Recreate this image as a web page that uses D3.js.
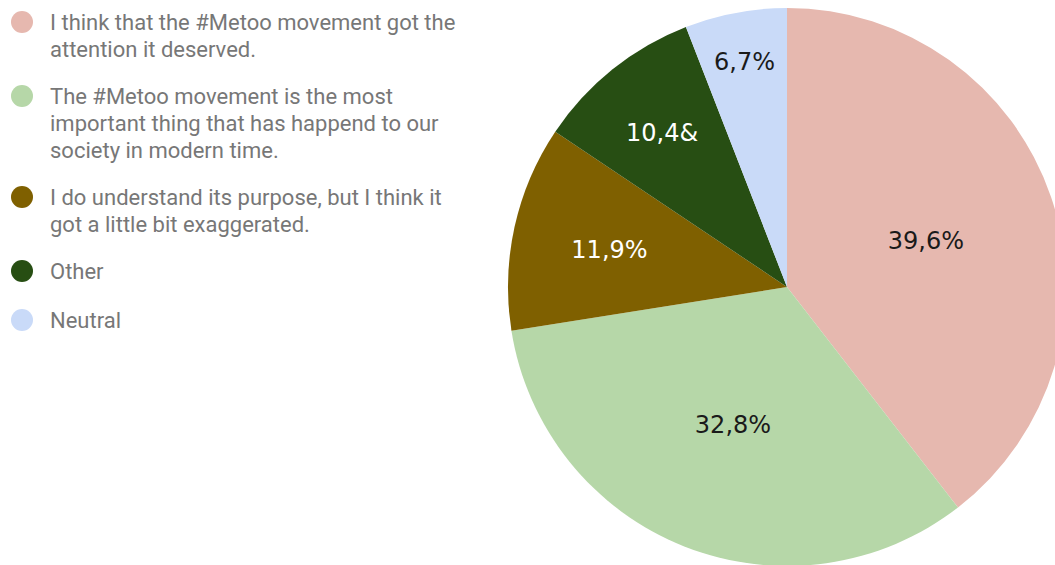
<!DOCTYPE html>
<html>
<head>
<meta charset="utf-8">
<script src="https://cdn.jsdelivr.net/npm/d3@7"></script>
<style>
  html, body { margin: 0; padding: 0; background: #fff; }
  svg { display: block; }
</style>
</head>
<body>
<svg id="chart" width="1055" height="565"></svg>
<script>
// ---- data ----
const categories = [
  ["I think that the #Metoo movement got the", "attention it deserved."],
  ["The #Metoo movement is the most", "important thing that has happend to our", "society in modern time."],
  ["I do understand its purpose, but I think it", "got a little bit exaggerated."],
  ["Other"],
  ["Neutral"]
];
const shares = [39.5, 33.0, 11.9, 9.7, 5.9];           // slice sizes as drawn
const sliceLabels = ["39,6%", "32,8%", "11,9%", "10,4&", "6,7%"]; // label texts as printed
const colors = ["#e6b8af", "#b6d7a8", "#7f6000", "#274e13", "#c9daf8"];
const labelColors = ["#1a1a1a", "#1a1a1a", "#ffffff", "#ffffff", "#1a1a1a"];

// ---- layout ----
const cx = 787, cy = 287, R = 279;
const svg = d3.select("#chart");

const pie = d3.pie().sort(null).value(d => d);
const arcs = pie(shares);
const arc = d3.arc().innerRadius(0).outerRadius(R);

const g = svg.append("g").attr("transform", `translate(${cx},${cy})`);
g.selectAll("path.slice")
  .data(arcs)
  .enter().append("path")
  .attr("class", "slice")
  .attr("d", arc)
  .attr("fill", (d, i) => colors[i]);

// label placement: along mid-angle, distance from rim grows with slice angle
g.selectAll("text.lbl")
  .data(arcs)
  .enter().append("text")
  .attr("class", "lbl")
  .attr("transform", d => {
    const theta = d.endAngle - d.startAngle;
    const mid = (d.startAngle + d.endAngle) / 2;
    const rho = R - Math.min(0.474 * R, 0.466 * R * theta);
    const x = rho * Math.sin(mid);
    const y = -rho * Math.cos(mid);
    return `translate(${x},${y})`;
  })
  .attr("text-anchor", "middle")
  .attr("dy", "0.4em")
  .attr("font-family", "DejaVu Sans, Verdana, sans-serif")
  .attr("font-size", 24)
  .attr("fill", (d, i) => labelColors[i])
  .text((d, i) => sliceLabels[i]);

// ---- legend ----
const legend = svg.append("g").attr("class", "legend");
const lineH = 27;
let baseline = 30;
categories.forEach((lines, i) => {
  const item = legend.append("g");
  item.append("circle")
    .attr("cx", 22)
    .attr("cy", baseline - 8)
    .attr("r", 11)
    .attr("fill", colors[i]);
  const t = item.append("text")
    .attr("font-family", "Roboto, sans-serif")
    .attr("font-size", 22)
    .attr("fill", "#777777");
  lines.forEach((ln, j) => {
    t.append("tspan")
      .attr("x", 50)
      .attr("y", baseline + j * lineH)
      .text(ln);
  });
  baseline += (lines.length - 1) * lineH + (lines.length > 1 ? 47 : 49);
});
</script>
</body>
</html>
